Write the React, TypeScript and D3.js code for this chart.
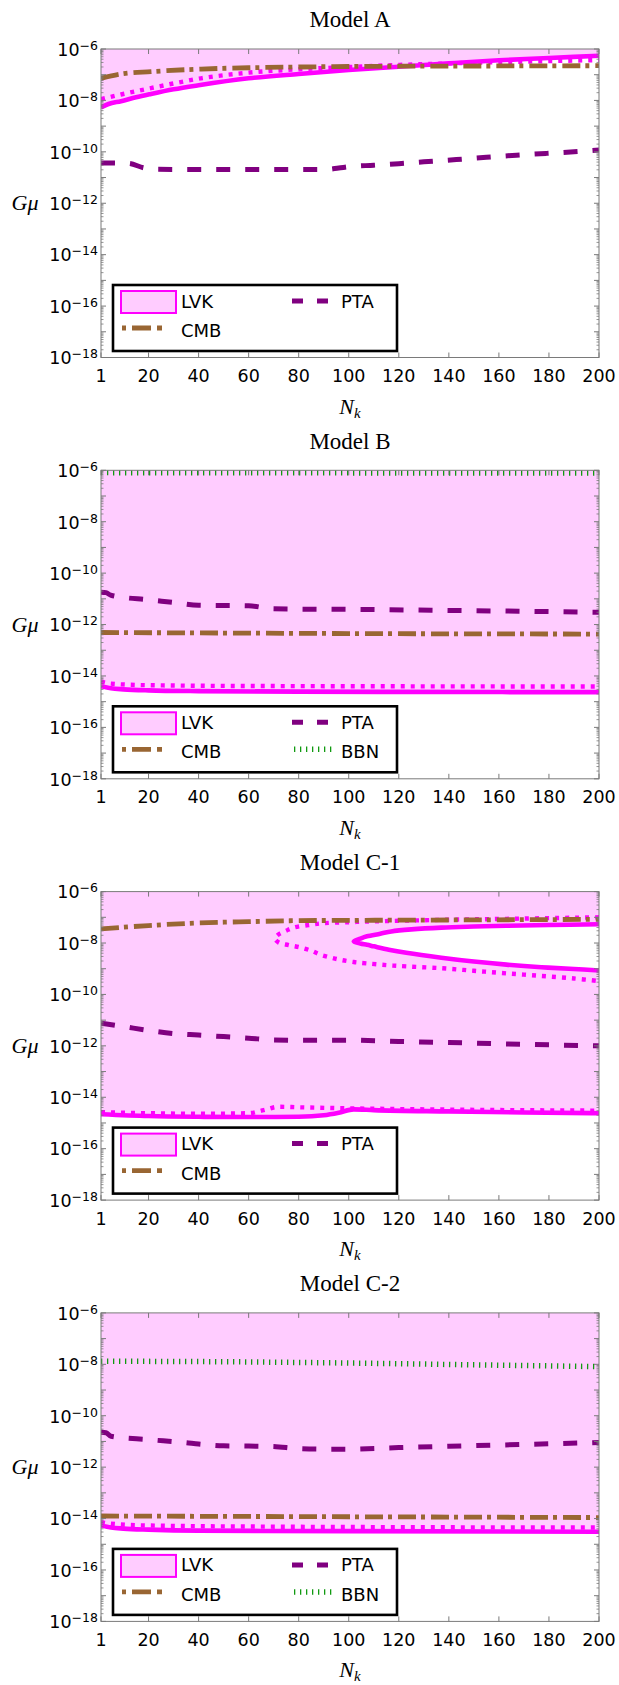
import React from 'react';
import * as d3 from 'd3';

type P = [number, number]; // [N_k, log10(Gμ)]

const nkTicks = [1, 20, 40, 60, 80, 100, 120, 140, 160, 180, 200];
const expLabels = [-6, -8, -10, -12, -14, -16, -18];
const titles = ['Model A', 'Model B', 'Model C-1', 'Model C-2'];

// ---- Model A ----
const A_lvkSolid: P[] = [[1, -8.27], [4, -8.14], [9, -8.03], [15, -7.88], [21, -7.75], [30, -7.57], [40, -7.41], [60, -7.14], [80, -6.97], [100, -6.82], [120, -6.69], [140, -6.56], [160, -6.44], [180, -6.35], [200, -6.26]];
const A_lvkDotted: P[] = [[1, -7.95], [9, -7.77], [21, -7.52], [30, -7.34], [41, -7.14], [60, -6.92], [80, -6.79], [100, -6.70], [120, -6.62], [140, -6.56], [160, -6.51], [180, -6.47], [200, -6.43]];
const A_cmb: P[] = [[1, -7.14], [9, -6.97], [21, -6.88], [41, -6.78], [60, -6.73], [80, -6.70], [100, -6.68], [120, -6.67], [160, -6.66], [200, -6.65]];
const A_pta: P[] = [[1, -10.43], [12, -10.45], [18, -10.62], [22, -10.68], [40, -10.69], [60, -10.69], [90, -10.69], [96, -10.63], [100, -10.58], [110, -10.52], [120, -10.46], [130, -10.39], [143, -10.30], [155, -10.21], [167, -10.13], [179, -10.06], [190, -10.0], [200, -9.93]];

// ---- Model B ----
const B_lvkSolid: P[] = [[1, -14.40], [5, -14.48], [10, -14.52], [20, -14.56], [40, -14.59], [80, -14.61], [120, -14.62], [200, -14.63]];
const B_lvkDotted: P[] = [[1, -14.22], [5, -14.30], [20, -14.36], [60, -14.39], [200, -14.41]];
const B_cmb: P[] = [[1, -12.31], [50, -12.33], [100, -12.35], [200, -12.37]];
const B_pta: P[] = [[1, -10.74], [3, -10.76], [5, -10.86], [20, -11.04], [30, -11.14], [40, -11.25], [60, -11.27], [70, -11.39], [80, -11.40], [100, -11.41], [140, -11.45], [200, -11.52]];
const B_bbn: P[] = [[1, -6.09], [100, -6.10], [200, -6.11]];

// ---- Model C-1 ----
const C1_lvkSolid: P[] = [[1, -14.66], [20, -14.73], [40, -14.76], [60, -14.77], [80, -14.76], [90, -14.70], [96, -14.60], [102, -14.47], [110, -14.50], [140, -14.55], [170, -14.59], [200, -14.62]];
const C1_lvkSolidLoop: P[] = [[200, -7.27], [180, -7.30], [163, -7.33], [150, -7.36], [137, -7.40], [125, -7.47], [117, -7.55], [112.6, -7.64], [107.3, -7.74], [104.6, -7.83], [102, -7.94], [104.6, -8.02], [107.3, -8.07], [110, -8.13], [116, -8.26], [123, -8.38], [137, -8.57], [150, -8.72], [163, -8.84], [177, -8.94], [190, -9.01], [200, -9.07]];
const C1_lvkDotted: P[] = [[1, -14.58], [20, -14.62], [40, -14.64], [60, -14.62], [66, -14.50], [72, -14.37], [80, -14.39], [100, -14.43], [140, -14.48], [200, -14.52]];
const C1_lvkDottedLoop: P[] = [[200, -7.00], [163, -7.06], [137, -7.10], [110, -7.16], [100, -7.19], [90, -7.23], [84, -7.30], [78, -7.40], [75, -7.52], [72, -7.66], [70.5, -7.82], [72, -7.98], [76, -8.08], [80.6, -8.17], [85, -8.30], [88.6, -8.45], [93, -8.57], [97, -8.66], [102, -8.74], [107, -8.79], [115, -8.86], [123, -8.91], [137, -8.98], [150, -9.08], [163, -9.18], [177, -9.28], [190, -9.38], [200, -9.48]];
const C1_cmb: P[] = [[1, -7.45], [20, -7.32], [40, -7.22], [60, -7.17], [80, -7.13], [100, -7.12], [150, -7.10], [200, -7.08]];
const C1_pta: P[] = [[1, -11.12], [10, -11.25], [20, -11.40], [30, -11.52], [40, -11.58], [50, -11.64], [60, -11.70], [70, -11.77], [80, -11.78], [100, -11.78], [120, -11.83], [140, -11.87], [160, -11.92], [180, -11.96], [200, -12.0]];

// ---- Model C-2 ----
const C2_lvkSolid: P[] = [[1, -14.27], [5, -14.35], [10, -14.39], [20, -14.43], [40, -14.47], [100, -14.49], [200, -14.51]];
const C2_lvkDotted: P[] = [[1, -14.14], [5, -14.20], [20, -14.27], [60, -14.31], [200, -14.35]];
const C2_cmb: P[] = [[1, -13.90], [100, -13.93], [200, -13.96]];
const C2_pta: P[] = [[1, -10.64], [3, -10.66], [5, -10.80], [20, -10.93], [35, -11.05], [40, -11.10], [50, -11.17], [60, -11.18], [70, -11.20], [80, -11.28], [90, -11.30], [100, -11.30], [120, -11.24], [140, -11.19], [160, -11.14], [180, -11.09], [200, -11.04]];
const C2_bbn: P[] = [[1, -7.88], [50, -7.90], [100, -7.95], [150, -8.02], [200, -8.09]];

type Model = {
  solid: P[];
  solidLoop?: P[];
  dotted: P[];
  dottedLoop?: P[];
  cmb: P[];
  pta: P[];
  bbn?: P[];
};

const models: Model[] = [
  { solid: A_lvkSolid, dotted: A_lvkDotted, cmb: A_cmb, pta: A_pta },
  { solid: B_lvkSolid, dotted: B_lvkDotted, cmb: B_cmb, pta: B_pta, bbn: B_bbn },
  { solid: C1_lvkSolid, solidLoop: C1_lvkSolidLoop, dotted: C1_lvkDotted, dottedLoop: C1_lvkDottedLoop, cmb: C1_cmb, pta: C1_pta },
  { solid: C2_lvkSolid, dotted: C2_lvkDotted, cmb: C2_cmb, pta: C2_pta, bbn: C2_bbn },
];

const SANS = "'DejaVu Sans', sans-serif";
const SERIF = "'Liberation Serif', 'Times New Roman', serif";
const MAGENTA = '#ff00ff';
const FILL = '#ffccff';
const BROWN = '#996633';
const PURPLE = '#800080';
const GREEN = '#119a11';
const FRAME = '#7a7a7a';

const solidStyle = { fill: 'none', stroke: MAGENTA, strokeWidth: 4.6 };
const dottedStyle = { fill: 'none', stroke: MAGENTA, strokeWidth: 4.4, strokeDasharray: '4 6' };
const cmbStyle = { fill: 'none', stroke: BROWN, strokeWidth: 4.8, strokeDasharray: '18 5 4 6' };
const ptaStyle = { fill: 'none', stroke: PURPLE, strokeWidth: 5, strokeDasharray: '14 15' };
const bbnStyle = { fill: 'none', stroke: GREEN, strokeWidth: 5.5, strokeDasharray: '1.3 4.7' };

function Panel({ i }: { i: number }) {
  const m = models[i];
  const top = 49 + i * 421.3;
  const bottom = top + 308.5;
  const left = 101;
  const right = 599;
  const x = d3.scaleLinear().domain([1, 200]).range([left, right]);
  const y = d3.scaleLog().domain([1e-18, 1e-6]).range([bottom, top]);
  const px = (p: P) => x(p[0]);
  const py = (p: P) => y(Math.pow(10, p[1]));
  const lineM = d3.line<P>().x(px).y(py).curve(d3.curveMonotoneX);
  const lineC = d3.line<P>().x(px).y(py).curve(d3.curveCatmullRom.alpha(0.5));
  const area = d3.area<P>().x(px).y0(top).y1(py).curve(d3.curveMonotoneX);

  let fillD = area(m.solid) as string;
  if (m.solidLoop) fillD += (lineC(m.solidLoop) as string) + 'Z';

  const clipId = `clip${i}`;
  const cx = (left + right) / 2;

  // y ticks
  const majorExps = d3.range(-18, -5);
  const minor: number[] = [];
  for (let e = -18; e < -6; e++) for (let k = 2; k <= 9; k++) minor.push(k * Math.pow(10, e));

  return (
    <g>
      <defs>
        <clipPath id={clipId}>
          <rect x={left} y={top} width={right - left} height={bottom - top} />
        </clipPath>
      </defs>
      <text x={cx} y={top - 21.7} textAnchor="middle" fontFamily={SERIF} fontSize={23}>
        {titles[i]}
      </text>
      <g clipPath={`url(#${clipId})`}>
        <path d={fillD} fill={FILL} fillRule="evenodd" stroke="none" />
        <path d={lineM(m.solid) as string} {...solidStyle} />
        {m.solidLoop && <path d={lineC(m.solidLoop) as string} {...solidStyle} />}
        <path d={lineM(m.dotted) as string} {...dottedStyle} />
        {m.dottedLoop && <path d={lineC(m.dottedLoop) as string} {...dottedStyle} />}
        <path d={lineM(m.cmb) as string} {...cmbStyle} />
        <path d={lineM(m.pta) as string} {...ptaStyle} />
        {m.bbn && <path d={lineM(m.bbn) as string} {...bbnStyle} />}
      </g>
      {/* frame */}
      <rect x={left} y={top} width={right - left} height={bottom - top} fill="none" stroke={FRAME} strokeWidth={1} />
      {/* x ticks */}
      {nkTicks.map((t) => (
        <g key={`xt${t}`}>
          <line x1={x(t)} x2={x(t)} y1={bottom} y2={bottom - 5} stroke={FRAME} strokeWidth={1} />
          <line x1={x(t)} x2={x(t)} y1={top} y2={top + 5} stroke={FRAME} strokeWidth={1} />
          <text x={x(t)} y={bottom + 24.5} textAnchor="middle" fontFamily={SANS} fontSize={17.5} fill="#000">
            {t}
          </text>
        </g>
      ))}
      {/* y ticks */}
      {majorExps.map((e) => {
        const yy = y(Math.pow(10, e));
        return (
          <g key={`ym${e}`}>
            <line x1={left} x2={left + 5} y1={yy} y2={yy} stroke={FRAME} strokeWidth={1} />
            <line x1={right} x2={right - 5} y1={yy} y2={yy} stroke={FRAME} strokeWidth={1} />
          </g>
        );
      })}
      {minor.map((v, k) => {
        const yy = y(v);
        return (
          <g key={`yn${k}`}>
            <line x1={left} x2={left + 2.5} y1={yy} y2={yy} stroke={FRAME} strokeWidth={0.8} />
            <line x1={right} x2={right - 2.5} y1={yy} y2={yy} stroke={FRAME} strokeWidth={0.8} />
          </g>
        );
      })}
      {expLabels.map((e) => {
        const yy = y(Math.pow(10, e));
        return (
          <text key={`yl${e}`} x={left - 3} y={yy + 6.8} textAnchor="end" fontFamily={SANS} fontSize={17.5} fill="#000">
            <tspan>10</tspan>
            <tspan dy={-6} fontSize={12.5}>{`\u2212${-e}`}</tspan>
          </text>
        );
      })}
      {/* axis labels */}
      <text x={25} y={(top + bottom) / 2 + 7} textAnchor="middle" fontFamily={SERIF} fontStyle="italic" fontSize={22}>
        Gμ
      </text>
      <text x={cx} y={bottom + 56} textAnchor="middle" fontFamily={SERIF} fontStyle="italic" fontSize={22}>
        <tspan>N</tspan>
        <tspan dy={4} fontSize={15}>k</tspan>
      </text>
      {/* legend */}
      <g>
        <rect x={113} y={top + 236} width={284} height={66} fill="#fff" stroke="#000" strokeWidth={2.6} />
        <rect x={121} y={top + 242} width={55} height={22} fill={FILL} stroke={MAGENTA} strokeWidth={2} />
        <text x={181} y={top + 258.5} fontFamily={SANS} fontSize={18}>LVK</text>
        <line x1={292} x2={329} y1={top + 252} y2={top + 252} stroke={PURPLE} strokeWidth={5} strokeDasharray="11 14" />
        <text x={341} y={top + 258.5} fontFamily={SANS} fontSize={18}>PTA</text>
        <line x1={122} x2={162} y1={top + 279} y2={top + 279} stroke={BROWN} strokeWidth={4.8} strokeDasharray="4 6 19 6 5 100" />
        <text x={181} y={top + 288} fontFamily={SANS} fontSize={18}>CMB</text>
        {m.bbn && (
          <>
            <line x1={294} x2={333} y1={top + 279} y2={top + 279} stroke={GREEN} strokeWidth={5.5} strokeDasharray="1.3 4.7" />
            <text x={341} y={top + 288} fontFamily={SANS} fontSize={18}>BBN</text>
          </>
        )}
      </g>
    </g>
  );
}

export default function App() {
  return (
    <div style={{ position: 'absolute', left: 0, top: 0 }}>
      <svg width={619} height={1685} viewBox="0 0 619 1685" style={{ display: 'block', background: '#fff' }}>
        {models.map((_, i) => (
          <Panel key={i} i={i} />
        ))}
      </svg>
    </div>
  );
}
